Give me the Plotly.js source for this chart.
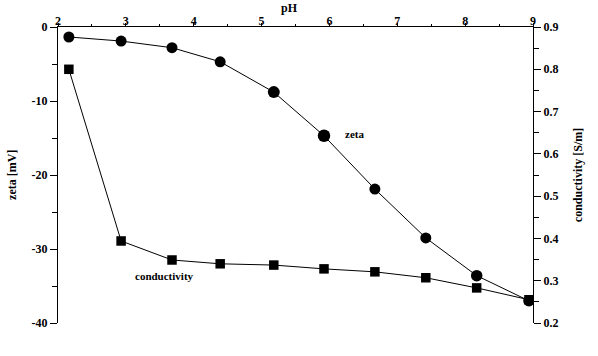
<!DOCTYPE html>
<html><head><meta charset="utf-8">
<script src="https://cdn.plot.ly/plotly-3.0.1.min.js"></script>
<style>body{margin:0;background:#fff}#c{width:598px;height:356px}</style>
</head><body><div id="c"></div>
<script>
const pH = [2.16, 2.93, 3.68, 4.39, 5.18, 5.92, 6.67, 7.42, 8.17, 8.94];
const zeta = [-1.35, -1.9, -2.8, -4.7, -8.8, -14.7, -21.9, -28.5, -33.6, -37.0];
const zetaSizes = [11, 11, 11, 11, 12, 12.5, 11, 11, 11.5, 11.5];
const conductivity = [0.80, 0.394, 0.349, 0.340, 0.337, 0.328, 0.321, 0.307, 0.283, 0.255];
const zetaTicks = [0, -10, -20, -30, -40];
const zetaTickText = ["0", "-10", "-20", "-30", "-40"];
const condTicks = [0.2, 0.3, 0.4, 0.5, 0.6, 0.7, 0.8, 0.9];

const F = "Liberation Serif, Times New Roman, serif";
const tf = {family: F, size: 12, color: "#000", weight: "bold"};
const af = {family: F, size: 11, color: "#000", weight: "bold"};

const traces = [
  {x: pH, y: conductivity, type: "scatter", mode: "lines+markers", yaxis: "y2",
   line: {color: "#000", width: 1}, marker: {symbol: "square", size: 9.5, color: "#000", opacity: 1, line: {width: 0}}},
  {x: pH, y: zeta, type: "scatter", mode: "lines+markers", yaxis: "y",
   line: {color: "#000", width: 1}, marker: {symbol: "circle", size: zetaSizes, color: "#000", opacity: 1, line: {width: 0}}}
];

const layout = {
  width: 598, height: 356, showlegend: false,
  paper_bgcolor: "#fff", plot_bgcolor: "#fff",
  margin: {l: 58, r: 65, t: 27, b: 33},
  font: {family: F, color: "#000"},
  xaxis: {side: "top", range: [2, 9], dtick: 1, tick0: 2, showgrid: false, zeroline: false,
    showline: true, linecolor: "#000", linewidth: 1, ticks: "outside", ticklen: 3, tickcolor: "#000",
    minor: {dtick: 0.5, ticks: "outside", ticklen: 2, tickcolor: "#000"},
    ticklabelstandoff: -7, tickfont: tf},
  yaxis: {range: [-40, 0], tickvals: zetaTicks, ticktext: zetaTickText, showgrid: false, zeroline: false,
    showline: true, linecolor: "#000", linewidth: 1, ticks: "outside", ticklen: 7, tickcolor: "#000",
    minor: {dtick: 5, ticks: "outside", ticklen: 5, tickcolor: "#000"},
    tickfont: tf},
  yaxis2: {overlaying: "y", side: "right", range: [0.2, 0.9], tickvals: condTicks, showgrid: false, zeroline: false,
    showline: true, linecolor: "#000", linewidth: 1, ticks: "outside", ticklen: 7, tickcolor: "#000",
    minor: {dtick: 0.05, ticks: "outside", ticklen: 5, tickcolor: "#000"},
    tickformat: ".1f", tickfont: tf},
  annotations: [
    {x: 0.488, y: 1.064, xref: "paper", yref: "paper", xanchor: "center", yanchor: "middle", text: "pH", showarrow: false, font: tf},
    {x: -0.097, y: 0.5, xref: "paper", yref: "paper", xanchor: "center", yanchor: "middle", text: "zeta [mV]", showarrow: false, textangle: -90, font: tf},
    {x: 1.095, y: 0.5, xref: "paper", yref: "paper", xanchor: "center", yanchor: "middle", text: "conductivity [S/m]", showarrow: false, textangle: -90, font: tf},
    {x: 6.2, y: -14.5, xref: "x", yref: "y", text: "zeta", showarrow: false, xanchor: "left", font: af},
    {x: 3.1, y: -33.7, xref: "x", yref: "y", text: "conductivity", showarrow: false, xanchor: "left", font: af}
  ]
};
Plotly.newPlot("c", traces, layout, {displayModeBar: false, staticPlot: true});
</script></body></html>
